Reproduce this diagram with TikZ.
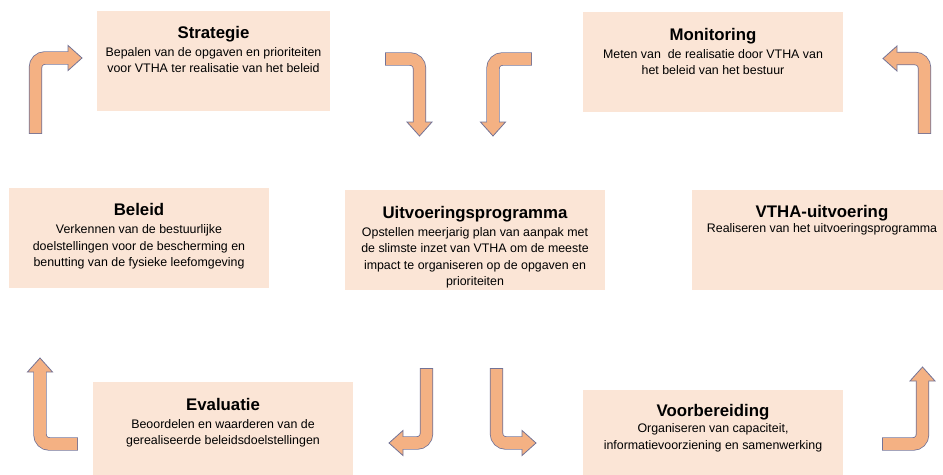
\documentclass[tikz,border=0pt]{standalone}
\usepackage{fontspec}
\setmainfont{Liberation Sans}
\usetikzlibrary{calc}
\definecolor{phasefill}{RGB}{251,229,214}
\definecolor{arrowfill}{RGB}{244,177,131}
\definecolor{arrowedge}{RGB}{115,115,150}

\tikzset{
  phase/.style={rectangle, fill=phasefill, inner sep=0pt, minimum width=195pt, minimum height=75pt},
  phasetext/.style={anchor=north, align=center, inner sep=0pt, font=\fontsize{9.3}{12.4}\selectfont},
  arrowline/.style={draw=arrowedge, line cap=butt, line width=10pt, rounded corners=7pt},
  arrowbody/.style={draw=arrowfill, line cap=butt, line width=8.8pt, rounded corners=7pt},
  arrowhead/.style={fill=arrowfill, draw=arrowedge, line width=0.6pt},
}

\newcommand{\phasetitle}[1]{{\fontsize{12.6}{13}\selectfont\bfseries #1}}
% bent arrow from (name-t) over (name-c) to tip (name-h)
\newcommand{\bentarrow}[1]{%
  \draw[arrowline] ($(#1-t)!-0.6pt!(#1-c)$) -- (#1-c) -- ($(#1-h)!10.5pt!(#1-c)$);
  \filldraw[arrowhead] ($($(#1-h)!10.5pt!(#1-c)$)!9.4pt!90:(#1-h)$) -- (#1-h)
     -- ($($(#1-h)!10.5pt!(#1-c)$)!9.4pt!-90:(#1-h)$) -- cycle;
  \draw[arrowbody] (#1-t) -- (#1-c) -- ($(#1-h)!9.5pt!(#1-c)$);
}

\begin{document}
\begin{tikzpicture}[x=0.75pt, y=-0.75pt]
\useasboundingbox (0,0) rectangle (943,475);

% phases of the cycle
\node[phase, minimum width=174.75pt] (strat) at (213.5,61) {};
\node[phase] (monit) at (713,61.5) {};
\node[phase] (beleid) at (139,237.5) {};
\node[phase] (uitv) at (475,239.5) {};
\node[phase] (vtha) at (822,239.5) {};
\node[phase] (eval) at (223,432) {};
\node[phase] (voorb) at (713,440) {};

\node[phasetext] (strat-txt) at ([yshift=-11.5pt]strat.north)
  {\phasetitle{Strategie}\\[1pt]Bepalen van de opgaven en prioriteiten\\voor VTHA ter realisatie van het beleid};
\node[phasetext] (monit-txt) at ([yshift=-12.5pt]monit.north)
  {\phasetitle{Monitoring}\\[1pt]Meten van\ \ de realisatie door VTHA van\\het beleid van het bestuur};
\node[phasetext] (beleid-txt) at ([yshift=-12pt]beleid.north)
  {\phasetitle{Beleid}\\[1pt]Verkennen van de bestuurlijke\\doelstellingen voor de bescherming en\\benutting van de fysieke leefomgeving};
\node[phasetext] (uitv-txt) at ([yshift=-12.5pt]uitv.north)
  {\phasetitle{Uitvoeringsprogramma}\\[1pt]Opstellen meerjarig plan van aanpak met\\de slimste inzet van VTHA om de meeste\\impact te organiseren op de opgaven en\\prioriteiten};
\node[phasetext] (vtha-txt) at ([yshift=-12pt]vtha.north)
  {\phasetitle{VTHA-uitvoering}\\[-1pt]Realiseren van het uitvoeringsprogramma};
\node[phasetext] (eval-txt) at ([yshift=-12pt]eval.north)
  {\phasetitle{Evaluatie}\\[1pt]Beoordelen en waarderen van de\\gerealiseerde beleidsdoelstellingen};
\node[phasetext] (voorb-txt) at ([yshift=-10.5pt]voorb.north)
  {\phasetitle{Voorbereiding}\\[0pt]Organiseren van capaciteit,\\informatievoorziening en samenwerking};

% bent arrows: name / tail / bend / tip
\foreach \n/\tx/\ty/\cx/\cy/\hx/\hy in {
    a1/35.5/133/35.5/58/82/58,
    a2/386/59/419.5/59/419.5/136,
    a3/531/59/493/59/493/136,
    a4/924.5/133/924.5/58.5/883/58.5,
    a5/77/444/40/444/40/358,
    a6/426.5/369/426.5/443/389/443,
    a7/496.5/369/496.5/443/536/443,
    a8/883/444/922.5/444/922.5/367}{
  \coordinate (\n-t) at (\tx,\ty);
  \coordinate (\n-c) at (\cx,\cy);
  \coordinate (\n-h) at (\hx,\hy);
  \bentarrow{\n}
}
\end{tikzpicture}
\end{document}
